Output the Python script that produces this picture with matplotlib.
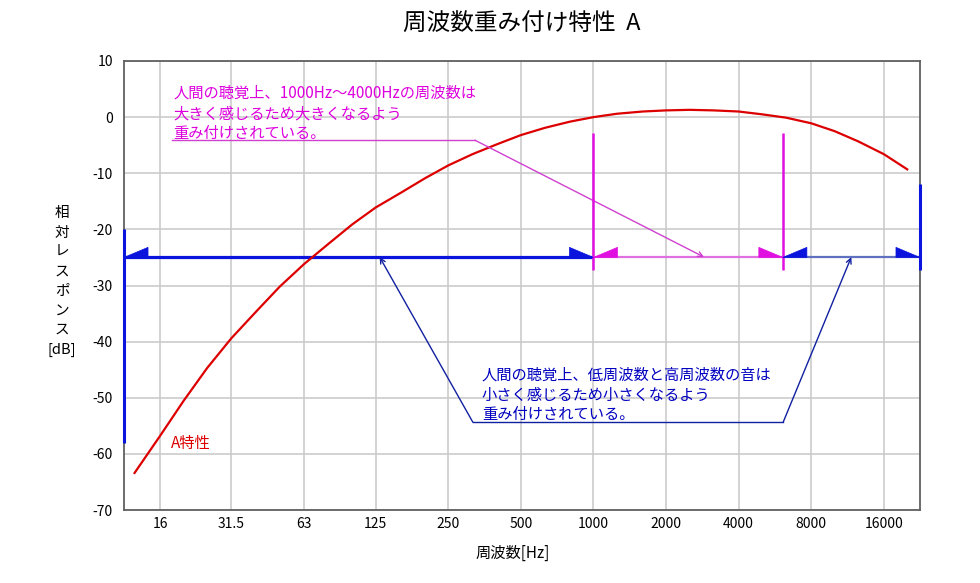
import matplotlib
matplotlib.use("Agg")
import matplotlib.pyplot as plt
from matplotlib.patches import Polygon

plt.rcParams['font.family'] = ['Noto Sans CJK JP', 'DejaVu Sans']

# ---- data ----
freqs = [12.5, 16, 20, 25, 31.5, 40, 50, 63, 80, 100, 125, 160, 200, 250, 315,
         400, 500, 630, 800, 1000, 1250, 1600, 2000, 2500, 3150, 4000, 5000,
         6300, 8000, 10000, 12500, 16000, 20000]
a_weight = [-63.4, -56.7, -50.5, -44.7, -39.4, -34.6, -30.2, -26.2, -22.5, -19.1,
            -16.1, -13.4, -10.9, -8.6, -6.6, -4.8, -3.2, -1.9, -0.8, 0.0, 0.6,
            1.0, 1.2, 1.3, 1.2, 1.0, 0.5, -0.1, -1.1, -2.5, -4.3, -6.6, -9.3]
xtick_vals = [16, 31.5, 63, 125, 250, 500, 1000, 2000, 4000, 8000, 16000]
xtick_labels = ['16', '31.5', '63', '125', '250', '500', '1000', '2000', '4000', '8000', '16000']
ytick_vals = [10, 0, -10, -20, -30, -40, -50, -60, -70]
ytick_labels = ['10', '0', '-10', '-20', '-30', '-40', '-50', '-60', '-70']

ref_level = -25          # dB level of band line
band_lo = 1000           # emphasised band (Hz)
band_hi = 6100

title = '周波数重み付け特性  A'
xlabel = '周波数[Hz]'
ylabel_chars = ['相', '対', 'レ', 'ス', 'ポ', 'ン', 'ス', '[dB]']
note_mid = ['人間の聴覚上、1000Hz～4000Hzの周波数は', '大きく感じるため大きくなるよう', '重み付けされている。']
note_edge = ['人間の聴覚上、低周波数と高周波数の音は', '小さく感じるため小さくなるよう', '重み付けされている。']
curve_label = 'A特性'

# ---- figure ----
W, H = 980, 583
fig = plt.figure(figsize=(W / 100, H / 100), dpi=100)
ax = fig.add_axes([124 / W, 1 - 510 / H, (920 - 124) / W, (510 - 61) / H])
xmin, xmax = 11.3, 22600
ax.set_xscale('log')
ax.set_xlim(xmin, xmax)
ax.set_ylim(-70, 10)
ax.set_xticks(xtick_vals)
ax.set_xticklabels(xtick_labels, fontsize=10)
ax.xaxis.set_minor_locator(matplotlib.ticker.NullLocator())
ax.set_yticks(ytick_vals)
ax.set_yticklabels(ytick_labels, fontsize=10)
ax.tick_params(axis='x', length=0, pad=5)
ax.tick_params(axis='y', length=0, pad=8)
ax.grid(True, color='#c8c8c8', linewidth=1.1)
ax.set_axisbelow(True)
for s in ax.spines.values():
    s.set_color('#606060')
    s.set_linewidth(1.3)

ax.plot(freqs, a_weight, color='#dd0000', linewidth=1.6, zorder=5)

BLUE = '#0a14dc'
MAG = '#e010e0'
oct_w = 24 / 72.5   # triangle width in octaves
tri_h = 1.8         # triangle height in dB

def tri(x_tip, direction, color):
    # half arrowhead on the reference line, tip at x_tip, body on the given side
    x_base = x_tip * 2 ** (direction * oct_w)
    ax.add_patch(Polygon([(x_tip, ref_level), (x_base, ref_level + tri_h), (x_base, ref_level)],
                         closed=True, facecolor=color, edgecolor=color, linewidth=0.5, zorder=6,
                         clip_on=False))

# band line segments
ax.plot([xmin, band_lo], [ref_level, ref_level], color=BLUE, linewidth=2.3, zorder=4, solid_capstyle='butt')
ax.plot([band_lo, band_hi], [ref_level, ref_level], color='#e070e0', linewidth=1.6, zorder=4)
ax.plot([band_hi, xmax], [ref_level, ref_level], color='#6070c0', linewidth=1.6, zorder=4)

# vertical edge markers
ax.plot([xmin, xmin], [-20, -58], color=BLUE, linewidth=2.2, zorder=6, clip_on=False, solid_capstyle='butt')
ax.plot([xmax, xmax], [-12, -27.2], color=BLUE, linewidth=2.2, zorder=6, clip_on=False, solid_capstyle='butt')
ax.plot([band_lo, band_lo], [-2.8, -27.3], color=MAG, linewidth=1.8, zorder=6, solid_capstyle='butt')
ax.plot([band_hi, band_hi], [-2.8, -27.3], color=MAG, linewidth=1.8, zorder=6, solid_capstyle='butt')

tri(xmin, 1, BLUE)
tri(band_lo, -1, BLUE)
tri(band_lo, 1, MAG)
tri(band_hi, -1, MAG)
tri(band_hi, 1, BLUE)
tri(xmax, -1, BLUE)

# ---- annotations ----
def px2data(px, py):
    f = 16 * 2 ** ((px - 160) / 72.5)
    db = -(py - 117) / 5.6125
    return f, db

# magenta note
for i, line in enumerate(note_mid):
    x, y = px2data(173, [93, 114, 133][i])
    ax.text(x, y, line, color='#dd00dd', fontsize=11, va='center', ha='left', zorder=7)
p0 = px2data(172, 140)
p1 = px2data(474, 140)
p2 = px2data(703, 257)
ax.plot([p0[0], p1[0]], [p0[1], p1[1]], color='#d040d0', linewidth=1.0, zorder=5)
ax.annotate('', xy=p2, xytext=p1,
            arrowprops=dict(arrowstyle='->', color='#d040d0', lw=1.0, mutation_scale=9,
                            shrinkA=0, shrinkB=0), zorder=5)

# blue note
for i, line in enumerate(note_edge):
    x, y = px2data(481, [375, 395, 414][i])
    ax.text(x, y, line, color='#0000c0', fontsize=11, va='center', ha='left', zorder=7)
b_tip1 = px2data(379, 257)
b_bl = px2data(472, 422)
b_br = px2data(782, 422)
b_tip2 = px2data(850, 257)
ax.plot([b_bl[0], b_br[0]], [b_bl[1], b_br[1]], color='#1020a0', linewidth=1.0, zorder=5)
for tip, base in [(b_tip1, b_bl), (b_tip2, b_br)]:
    ax.annotate('', xy=tip, xytext=base,
                arrowprops=dict(arrowstyle='->', color='#1020a0', lw=1.0, mutation_scale=9,
                                shrinkA=0, shrinkB=0), zorder=5)

cx, cy = px2data(171, 443)
ax.text(cx, cy, curve_label, color='#dd0000', fontsize=11, va='center', ha='left', zorder=7)

# ---- titles and labels ----
fig.text(522 / W, 1 - 24 / H, title, fontsize=17, ha='center', va='center')
fig.text(513 / W, 1 - 553 / H, xlabel, fontsize=11, ha='center', va='center')
for i, ch in enumerate(ylabel_chars):
    fig.text(62 / W, 1 - (213 + i * 19.5) / H, ch, fontsize=10.5, ha='center', va='center')

fig.savefig('out.png', dpi=100)
